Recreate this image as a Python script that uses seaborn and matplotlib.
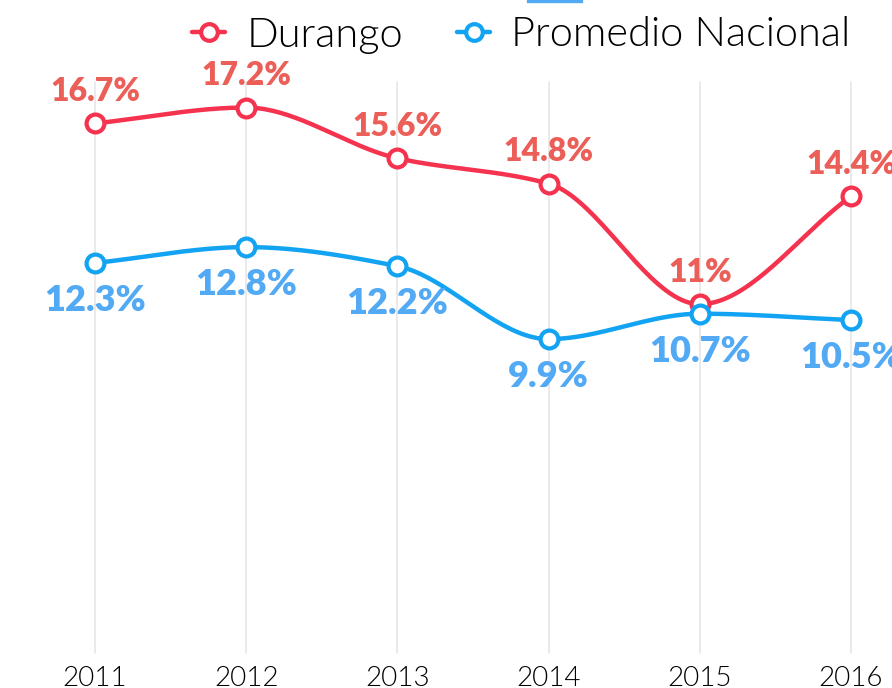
import numpy as np
import pandas as pd
import matplotlib
matplotlib.use('Agg')
import matplotlib.pyplot as plt
import seaborn as sns
from matplotlib.lines import Line2D
from matplotlib.patches import Rectangle

# Data
years = [2011, 2012, 2013, 2014, 2015, 2016]
durango = [16.7, 17.2, 15.6, 14.8, 11.0, 14.4]
nacional = [12.3, 12.8, 12.2, 9.9, 10.7, 10.5]
durango_labels = ['16.7%', '17.2%', '15.6%', '14.8%', '11%', '14.4%']
nacional_labels = ['12.3%', '12.8%', '12.2%', '9.9%', '10.7%', '10.5%']

red_line = '#F5334F'
red_text = '#EC5E58'
blue_line = '#12A3F2'
blue_text = '#52A9F4'


# monotone cubic curve (like d3 curveMonotoneX) through the points
def monotone_curve(x, y, n=40):
    x = np.asarray(x, float)
    y = np.asarray(y, float)
    h = np.diff(x)
    d = np.diff(y) / h
    m = np.zeros_like(y)
    for i in range(1, len(y) - 1):
        if d[i - 1] * d[i] <= 0:
            m[i] = 0
        else:
            m[i] = (3 * (h[i - 1] + h[i])) / ((2 * h[i] + h[i - 1]) / d[i - 1] + (h[i] + 2 * h[i - 1]) / d[i])
    m[0] = d[0]
    m[-1] = d[-1]
    xs, ys = [], []
    for i in range(len(x) - 1):
        t = np.linspace(0, 1, n, endpoint=(i == len(x) - 2))
        h00 = 2 * t**3 - 3 * t**2 + 1
        h10 = t**3 - 2 * t**2 + t
        h01 = -2 * t**3 + 3 * t**2
        h11 = t**3 - t**2
        xs.append(x[i] + t * h[i])
        ys.append(h00 * y[i] + h10 * h[i] * m[i] + h01 * y[i + 1] + h11 * h[i] * m[i + 1])
    return np.concatenate(xs), np.concatenate(ys)


sns.set_style('white')
plt.rcParams['font.family'] = ['Lato', 'DejaVu Sans']

fig = plt.figure(figsize=(8.92, 6.88), dpi=100)
ax = fig.add_axes([0, 0, 1, 1])

# vertical grid lines
for yr in years:
    ax.plot([yr, yr], [0, 18], color='#E6E6E6', lw=1.2, zorder=0)

dx, dy = monotone_curve(years, durango)
nx, ny = monotone_curve(years, nacional)
smooth = pd.DataFrame({'x': np.concatenate([dx, nx]),
                       'y': np.concatenate([dy, ny]),
                       'serie': ['Durango'] * len(dx) + ['Promedio Nacional'] * len(nx)})
sns.lineplot(data=smooth, x='x', y='y', hue='serie', sort=False, estimator=None,
             palette=[red_line, blue_line], lw=3.2, legend=False, ax=ax, zorder=2)

ax.scatter(years, durango, s=165, facecolor='white', edgecolor=red_line, linewidth=3, zorder=3)
ax.scatter(years, nacional, s=165, facecolor='white', edgecolor=blue_line, linewidth=3, zorder=3)

for x, v, lab in zip(years, durango, durango_labels):
    ax.annotate(lab, (x, v), xytext=(0, 23), textcoords='offset points', ha='center', va='center',
                fontsize=23, fontweight='heavy', color=red_text)
for x, v, lab in zip(years, nacional, nacional_labels):
    ax.annotate(lab, (x, v), xytext=(0, -27), textcoords='offset points', ha='center', va='center',
                fontsize=26, fontweight='heavy', color=blue_text)

# x tick labels
for yr in years:
    ax.text(yr, -0.80, str(yr), ha='center', va='center', fontsize=20, fontweight=300, color='#000000')

ax.set_xlim(2010.372, 2016.271)
ax.set_ylim(-1.10, 20.59)
ax.axis('off')

# small cut-off bar at the top edge
fig.patches.append(Rectangle((527 / 892, 1 - 2 / 688), 55 / 892, 2 / 688, transform=fig.transFigure,
                             color=blue_text, zorder=5))

handles = [Line2D([0], [0], color=red_line, lw=3.2, marker='o', markersize=12,
                  markerfacecolor='white', markeredgecolor=red_line, markeredgewidth=3),
           Line2D([0], [0], color=blue_line, lw=3.2, marker='o', markersize=12,
                  markerfacecolor='white', markeredgecolor=blue_line, markeredgewidth=3)]
leg = fig.legend(handles, ['Durango', 'Promedio Nacional'], loc='center left',
                 bbox_to_anchor=(192 / 892, 1 - 35 / 688), borderaxespad=0, borderpad=0,
                 ncol=2, frameon=False, handlelength=0.8, handletextpad=0.5, columnspacing=1.3,
                 prop={'family': 'Lato', 'weight': 300, 'size': 30})
for t in leg.get_texts():
    t.set_color('#000000')

fig.savefig('out.png', dpi=100)
